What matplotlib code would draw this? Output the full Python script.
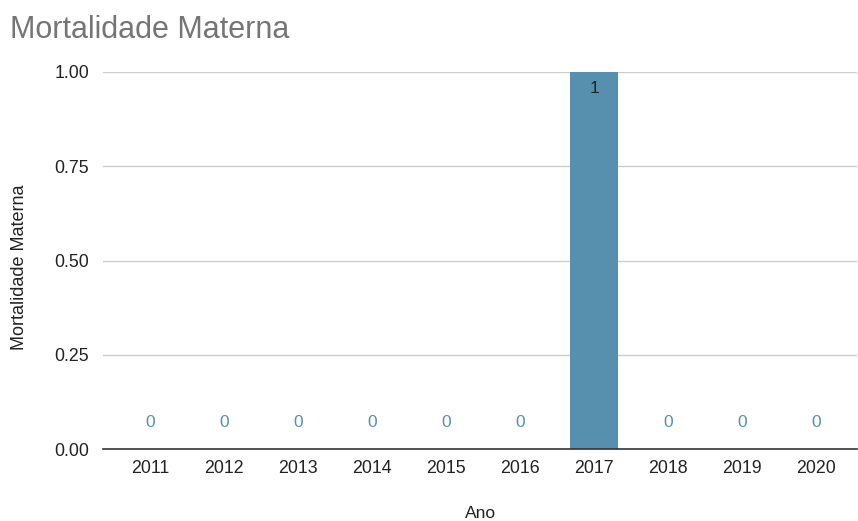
import matplotlib.pyplot as plt

plt.rcParams['font.family'] = ['Liberation Sans', 'DejaVu Sans']

anos = ['2011', '2012', '2013', '2014', '2015', '2016', '2017', '2018', '2019', '2020']
mortalidade = [0, 0, 0, 0, 0, 0, 1, 0, 0, 0]
yticks = [0.0, 0.25, 0.5, 0.75, 1.0]

fig = plt.figure(figsize=(8.58, 5.21), dpi=100)
ax = fig.add_axes([0.120, 0.138, 0.879, 0.724])

x = range(len(anos))
ax.bar(x, mortalidade, width=0.65, color='#5790ae', zorder=3)

for i, v in zip(x, mortalidade):
    if v > 0:
        ax.annotate(str(v), (i, v), xytext=(0, -12), textcoords='offset points',
                    ha='center', va='center', fontsize=12.5, color='#222222', zorder=4)
    else:
        ax.annotate(str(v), (i, v), xytext=(0, 19.5), textcoords='offset points',
                    ha='center', va='center', fontsize=12.5, color='#5b90aa', zorder=4)

ax.set_xlim(-0.634, 9.55)
ax.set_ylim(0, 1)
ax.set_xticks(list(x))
ax.set_xticklabels(anos)
ax.set_yticks(yticks)
ax.set_yticklabels(['%.2f' % t for t in yticks])
ax.tick_params(axis='both', length=0, labelsize=12.8, colors='#222222')
ax.tick_params(axis='x', pad=8)
ax.tick_params(axis='y', pad=10)

ax.grid(axis='y', color='#cccccc', linewidth=1, zorder=0)
for s in ['top', 'right', 'left']:
    ax.spines[s].set_visible(False)
ax.spines['bottom'].set_color('#333333')
ax.spines['bottom'].set_linewidth(1.2)
ax.spines['bottom'].set_zorder(5)

ax.set_xlabel('Ano', fontsize=12.5, color='#222222', labelpad=21)
ax.set_ylabel('Mortalidade Materna', fontsize=13, color='#222222')
ax.yaxis.set_label_coords(-0.099, 0.483)

fig.text(0.012, 0.943, 'Mortalidade Materna', fontsize=22, color='#757575',
         ha='left', va='center')

fig.savefig('out.png', dpi=100)
